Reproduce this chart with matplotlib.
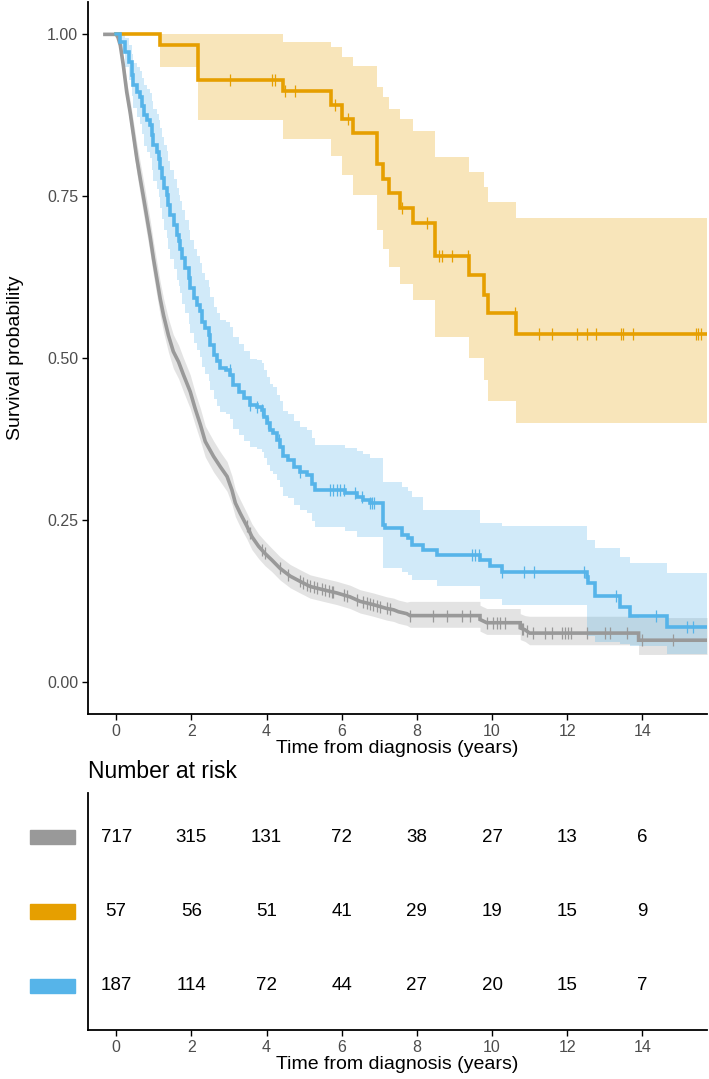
import numpy as np
import matplotlib.pyplot as plt
from matplotlib.patches import Rectangle
from matplotlib.transforms import blended_transform_factory

plt.rcParams['font.family'] = ['Liberation Sans', 'DejaVu Sans']

### ===========================================================================
# Kaplan-Meier estimates (time in years)
t_end = 15.72

grey_t = [-0.30, 0.00, 0.05, 0.11, 0.19, 0.28, 0.37, 0.46, 0.55, 0.64, 0.73,
          0.82, 0.91, 0.99, 1.08, 1.17, 1.26, 1.39, 1.52, 1.66, 1.79, 1.97,
          2.10, 2.24, 2.37, 2.59, 2.77, 2.95, 3.08, 3.17, 3.30, 3.48, 3.61,
          3.79, 3.96, 4.14, 4.36, 4.63, 4.89, 5.16, 5.51, 5.87, 6.22, 6.49,
          6.84, 7.20, 7.38, 7.51, 7.73, 7.82, 9.68, 9.86, 10.75, 10.88, 11.00,
          13.90]
grey_s = [1.000, 1.000, 0.995, 0.983, 0.952, 0.911, 0.880, 0.844, 0.808, 0.777,
          0.747, 0.716, 0.685, 0.654, 0.623, 0.592, 0.566, 0.535, 0.510, 0.494,
          0.474, 0.448, 0.422, 0.397, 0.371, 0.348, 0.332, 0.317, 0.296, 0.276,
          0.260, 0.240, 0.224, 0.209, 0.198, 0.188, 0.175, 0.163, 0.155, 0.147,
          0.142, 0.137, 0.131, 0.124, 0.119, 0.113, 0.111, 0.108, 0.105, 0.102,
          0.096, 0.091, 0.083, 0.080, 0.075, 0.064]
grey_lo = [1.000, 1.000, 0.990, 0.974, 0.939, 0.895, 0.862, 0.823, 0.785, 0.752,
           0.721, 0.690, 0.659, 0.628, 0.597, 0.566, 0.540, 0.509, 0.484, 0.468,
           0.448, 0.422, 0.397, 0.372, 0.347, 0.324, 0.309, 0.294, 0.274, 0.255,
           0.239, 0.220, 0.204, 0.190, 0.179, 0.170, 0.157, 0.145, 0.137, 0.129,
           0.124, 0.119, 0.113, 0.106, 0.101, 0.095, 0.093, 0.090, 0.087, 0.084,
           0.078, 0.073, 0.065, 0.062, 0.057, 0.042]
grey_hi = [1.000, 1.000, 1.000, 0.992, 0.965, 0.927, 0.898, 0.865, 0.831, 0.802,
           0.773, 0.742, 0.711, 0.680, 0.649, 0.618, 0.592, 0.561, 0.536, 0.520,
           0.500, 0.474, 0.447, 0.422, 0.395, 0.372, 0.355, 0.340, 0.318, 0.297,
           0.281, 0.260, 0.244, 0.228, 0.217, 0.206, 0.193, 0.181, 0.173, 0.165,
           0.160, 0.155, 0.149, 0.142, 0.137, 0.131, 0.129, 0.126, 0.123, 0.124,
           0.118, 0.113, 0.105, 0.102, 0.101, 0.099]
grey_cens = [3.48, 3.56, 3.87, 3.96, 4.36, 4.58, 4.89, 4.98, 5.07, 5.16, 5.25,
             5.34, 5.47, 5.56, 5.65, 5.74, 5.78, 6.05, 6.14, 6.40, 6.58, 6.67,
             6.76, 6.84, 6.93, 7.02, 7.20, 7.29, 7.82, 8.44, 8.80, 9.19, 9.41,
             9.86, 10.03, 10.12, 10.21, 10.35, 10.79, 10.83, 10.92, 11.10, 11.41,
             11.59, 11.85, 11.94, 12.03, 12.09, 12.52, 13.00, 13.14, 13.58,
             13.98, 14.82]

orange_t = [0.00, 1.17, 2.19, 4.45, 5.72, 6.00, 6.31, 6.93, 7.11, 7.27, 7.54,
            7.91, 8.48, 9.40, 9.79, 9.90, 10.64]
orange_s = [1.000, 0.983, 0.930, 0.912, 0.891, 0.870, 0.847, 0.800, 0.777,
            0.755, 0.732, 0.709, 0.657, 0.628, 0.597, 0.569, 0.537]
orange_lo = [1.000, 0.950, 0.867, 0.839, 0.812, 0.782, 0.752, 0.698, 0.669,
             0.641, 0.615, 0.590, 0.533, 0.500, 0.466, 0.434, 0.400]
orange_hi = [1.000, 1.000, 1.000, 0.988, 0.980, 0.965, 0.951, 0.919, 0.903,
             0.885, 0.870, 0.850, 0.811, 0.788, 0.764, 0.741, 0.716]
orange_cens = [3.03, 4.14, 4.22, 4.50, 4.76, 5.82, 6.18, 7.60, 8.26, 8.60, 8.66,
               8.93, 9.35, 10.60, 11.26, 11.59, 12.25, 12.52, 12.77, 13.43,
               13.49, 13.76, 15.43, 15.49, 15.55]

blue_t = [0.00, 0.11, 0.24, 0.33, 0.42, 0.46, 0.55, 0.64, 0.68, 0.73, 0.82,
          0.91, 0.95, 0.99, 1.08, 1.13, 1.17, 1.22, 1.26, 1.35, 1.39, 1.44,
          1.53, 1.62, 1.66, 1.71, 1.75, 1.84, 1.93, 1.97, 2.06, 2.15, 2.24,
          2.28, 2.37, 2.46, 2.50, 2.59, 2.68, 2.77, 2.91, 3.04, 3.12, 3.26,
          3.39, 3.56, 3.74, 3.87, 3.92, 4.00, 4.10, 4.18, 4.27, 4.36, 4.45,
          4.58, 4.72, 4.89, 5.07, 5.20, 5.29, 6.10, 6.40, 6.57, 6.75, 7.11,
          7.15, 7.60, 7.77, 7.86, 8.17, 8.53, 9.68, 9.95, 10.26, 12.52, 12.56,
          12.74, 13.40, 13.67, 14.65]
blue_s = [1.000, 0.988, 0.972, 0.957, 0.937, 0.921, 0.911, 0.903, 0.890, 0.875,
          0.867, 0.860, 0.844, 0.829, 0.819, 0.808, 0.793, 0.778, 0.762, 0.752,
          0.736, 0.721, 0.705, 0.690, 0.680, 0.669, 0.654, 0.639, 0.623, 0.608,
          0.593, 0.582, 0.572, 0.556, 0.546, 0.535, 0.520, 0.505, 0.495, 0.484,
          0.481, 0.474, 0.458, 0.448, 0.438, 0.427, 0.425, 0.420, 0.409, 0.399,
          0.389, 0.384, 0.373, 0.363, 0.348, 0.343, 0.332, 0.324, 0.319, 0.306,
          0.296, 0.291, 0.286, 0.281, 0.276, 0.242, 0.237, 0.227, 0.222, 0.211,
          0.204, 0.196, 0.188, 0.178, 0.169, 0.161, 0.153, 0.132, 0.116, 0.102,
          0.084]
blue_lo = [1.000, 0.973, 0.950, 0.930, 0.905, 0.886, 0.873, 0.862, 0.846, 0.828,
           0.818, 0.809, 0.790, 0.773, 0.761, 0.748, 0.731, 0.714, 0.697, 0.686,
           0.669, 0.653, 0.637, 0.621, 0.611, 0.600, 0.584, 0.569, 0.553, 0.538,
           0.523, 0.512, 0.502, 0.486, 0.476, 0.465, 0.451, 0.436, 0.426, 0.416,
           0.413, 0.406, 0.391, 0.381, 0.372, 0.362, 0.360, 0.355, 0.345, 0.335,
           0.326, 0.321, 0.311, 0.301, 0.287, 0.283, 0.273, 0.265, 0.260, 0.248,
           0.239, 0.232, 0.224, 0.224, 0.224, 0.176, 0.176, 0.170, 0.165, 0.157,
           0.157, 0.147, 0.127, 0.127, 0.119, 0.075, 0.070, 0.062, 0.058, 0.055,
           0.042]
blue_hi = [1.000, 1.000, 0.994, 0.984, 0.969, 0.956, 0.949, 0.944, 0.933, 0.921,
           0.915, 0.910, 0.897, 0.885, 0.877, 0.867, 0.855, 0.842, 0.829, 0.820,
           0.805, 0.791, 0.776, 0.762, 0.752, 0.742, 0.728, 0.713, 0.698, 0.683,
           0.668, 0.657, 0.647, 0.631, 0.621, 0.610, 0.594, 0.579, 0.569, 0.558,
           0.555, 0.548, 0.532, 0.522, 0.511, 0.499, 0.497, 0.492, 0.481, 0.470,
           0.460, 0.455, 0.443, 0.433, 0.418, 0.413, 0.402, 0.394, 0.389, 0.376,
           0.366, 0.361, 0.356, 0.351, 0.346, 0.309, 0.309, 0.300, 0.295, 0.286,
           0.265, 0.265, 0.245, 0.245, 0.240, 0.219, 0.219, 0.207, 0.193, 0.183,
           0.168]
blue_cens = [3.03, 3.56, 3.74, 3.87, 4.05, 4.32, 4.89, 5.69, 5.78, 5.87, 5.96,
             6.05, 6.36, 6.54, 6.76, 6.80, 6.85, 9.46, 9.55, 9.66, 10.26, 10.85,
             11.11, 12.45, 13.29, 14.35, 15.20, 15.36]

# number at risk table
risk_times = [0, 2, 4, 6, 8, 10, 12, 14]
risk_grey = [717, 315, 131, 72, 38, 27, 13, 6]
risk_orange = [57, 56, 51, 41, 29, 19, 15, 9]
risk_blue = [187, 114, 72, 44, 27, 20, 15, 7]

col_grey, col_orange, col_blue = '#999999', '#E69F00', '#56B4E9'
### ===========================================================================


def km_path(t, v, gap):
    """Path through the read points; gaps wider than `gap` drawn as a step."""
    xs, ys = [t[0]], [v[0]]
    for i in range(1, len(t)):
        if t[i] - t[i - 1] > gap:
            xs.append(t[i])
            ys.append(v[i - 1])
        xs.append(t[i])
        ys.append(v[i])
    xs.append(t_end)
    ys.append(v[-1])
    return np.array(xs), np.array(ys)


def km_plot(ax, t, s, lo, hi, cens, color, gap=0.0):
    # gap=0 -> pure step curve; the dense grey arm is traced as a line
    xs, ys = km_path(t, s, gap)
    _, ylo = km_path(t, lo, gap)
    _, yhi = km_path(t, hi, gap)
    ax.fill_between(xs, ylo, yhi, color=color, alpha=0.27, lw=0)
    ax.plot(xs, ys, color=color, lw=2.6, solid_joinstyle='miter')
    cy = np.interp(cens, xs, ys)
    ax.plot(cens, cy, ls='none', marker='|', ms=9, mew=0.9, color=color)


W, H = 709, 1079
fig = plt.figure(figsize=(W / 100, H / 100), dpi=100)
ax = fig.add_axes([88 / W, 1 - 714 / H, 619 / W, 712 / H])

km_plot(ax, grey_t, grey_s, grey_lo, grey_hi, grey_cens, col_grey, gap=0.4)
km_plot(ax, orange_t, orange_s, orange_lo, orange_hi, orange_cens, col_orange)
km_plot(ax, blue_t, blue_s, blue_lo, blue_hi, blue_cens, col_blue)

xlim = (-0.75, t_end)
ax.set_xlim(*xlim)
ax.set_ylim(-0.05, 1.05)
ax.set_xticks(risk_times)
ax.set_yticks([0, 0.25, 0.5, 0.75, 1.0])
ax.set_yticklabels(['0.00', '0.25', '0.50', '0.75', '1.00'])
for a in ['top', 'right']:
    ax.spines[a].set_visible(False)
for a in ['left', 'bottom']:
    ax.spines[a].set_linewidth(1.3)
ax.tick_params(labelsize=11.5, labelcolor='#4D4D4D', length=4, width=1, pad=3)
ax.set_xlabel('Time from diagnosis (years)', fontsize=14, labelpad=1)
ax.set_ylabel('Survival probability', fontsize=14, labelpad=17)

# risk table
ax2 = fig.add_axes([88 / W, 1 - 1030 / H, 619 / W, 237 / H])
ax2.set_xlim(*xlim)
ax2.set_ylim(0.4, 3.6)
ax2.set_xticks(risk_times)
ax2.set_yticks([])
for a in ['top', 'right']:
    ax2.spines[a].set_visible(False)
for a in ['left', 'bottom']:
    ax2.spines[a].set_linewidth(1.3)
ax2.tick_params(axis='x', labelsize=11.5, labelcolor='#4D4D4D', length=4,
                width=1, pad=3)
ax2.set_xlabel('Time from diagnosis (years)', fontsize=14, labelpad=1)

trans = blended_transform_factory(fig.transFigure, ax2.transData)
for row, (vals, col) in enumerate([(risk_grey, col_grey),
                                   (risk_orange, col_orange),
                                   (risk_blue, col_blue)]):
    yrow = 3 - row
    for x, v in zip(risk_times, vals):
        ax2.text(x, yrow, str(v), ha='center', va='center', fontsize=13.5)
    ax2.add_patch(Rectangle((30 / W, yrow - 0.095), 45 / W, 0.19,
                            transform=trans, color=col, clip_on=False))

fig.text(88 / W, 1 - 778 / H, 'Number at risk', fontsize=16.5,
         ha='left', va='baseline')

fig.savefig('out.png', dpi=100)
